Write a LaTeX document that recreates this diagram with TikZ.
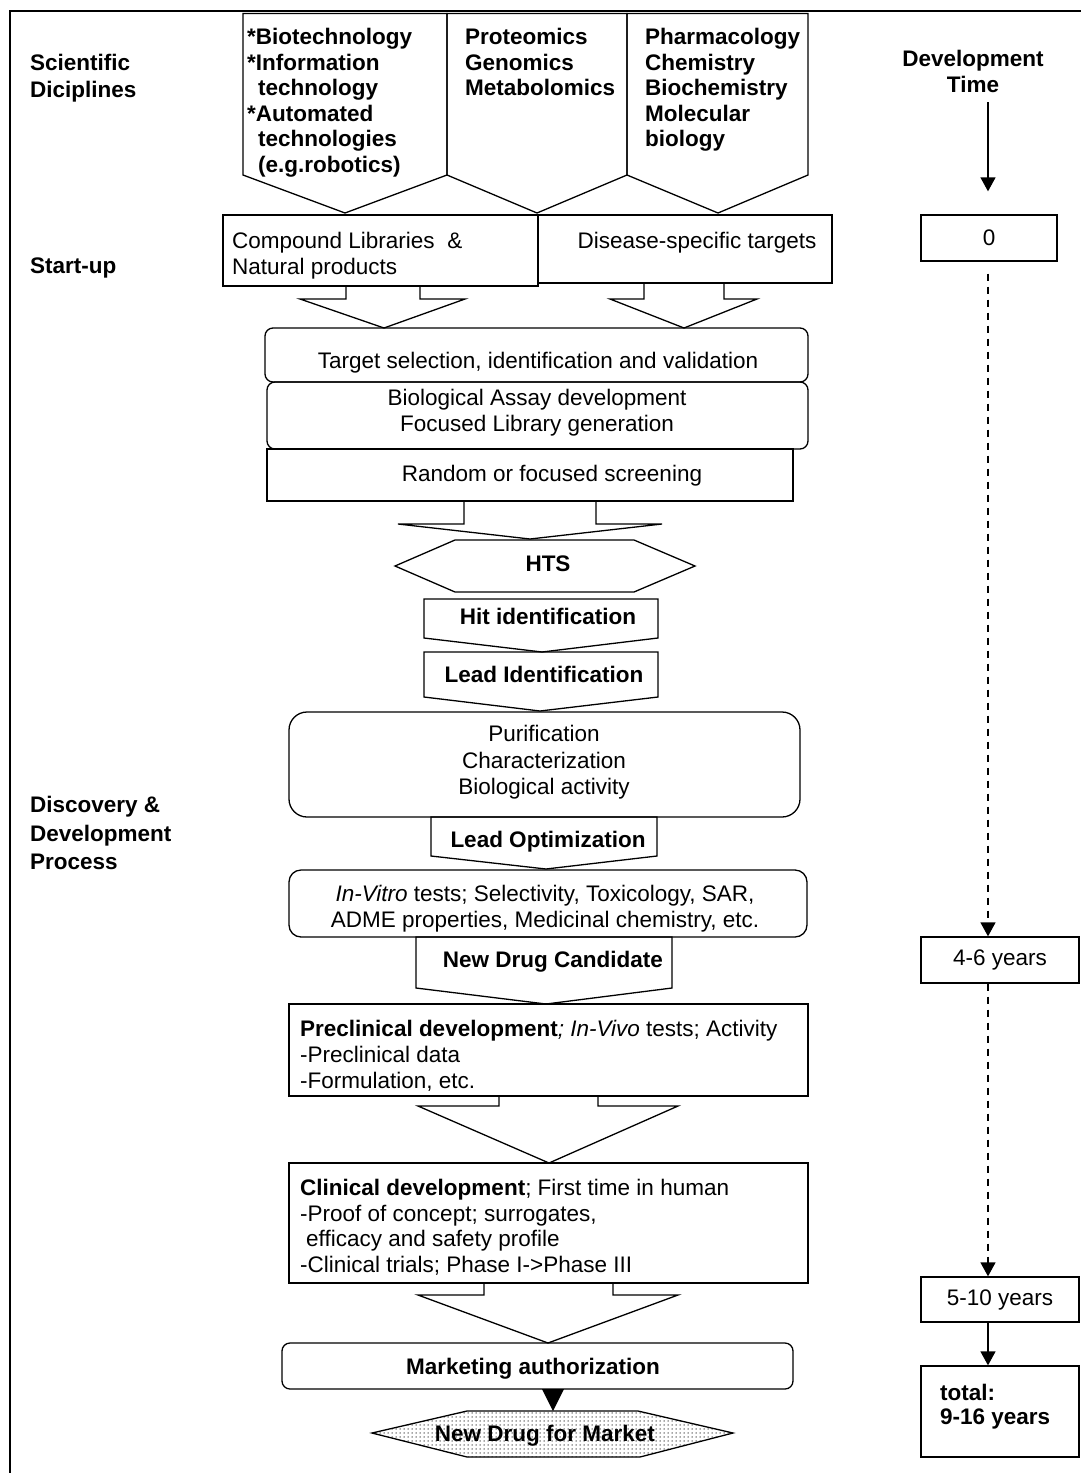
\documentclass[tikz,border=0pt]{standalone}
\usepackage{fontspec}
\setmainfont{Liberation Sans}
\usetikzlibrary{arrows.meta,patterns}
\pgfdeclarepatternformonly{bigdots}{\pgfqpoint{-1pt}{-1pt}}{\pgfqpoint{1pt}{1pt}}{\pgfqpoint{4pt}{4pt}}{\pgfpathcircle{\pgfqpoint{0pt}{0pt}}{.75pt}\pgfusepath{fill}}
\begin{document}
\begin{tikzpicture}[x=1pt,y=-1pt, line join=miter,
  every node/.style={font=\fontsize{22.5}{25.5}\selectfont, inner sep=0pt},
  shp/.style={draw, line width=1.3pt},
  rbox/.style={draw, line width=1.3pt, rounded corners=8pt},
  tbox/.style={draw, line width=1.3pt, minimum width=158pt, minimum height=46pt, inner sep=0pt},
  bf/.style={font=\fontsize{22.5}{25.5}\selectfont\bfseries},
  arr/.style={line width=1.3pt, -{Triangle[length=14pt,width=15pt]}},
  darr/.style={arr, dash pattern=on 7pt off 6pt},
]
\useasboundingbox (0,0) rectangle (1081,1473);
% frame
\draw[line width=1.5pt] (1081,11) -- (10,11) -- (10,1473);

% scientific discipline pentagons
\draw[shp] (243,13.5) -- (447,13.5) -- (447,175) -- (345,213) -- (243,175) -- cycle;
\draw[shp] (447,13.5) -- (627,13.5) -- (627,175) -- (537,213) -- (447,175) -- cycle;
\draw[shp] (627,13.5) -- (808,13.5) -- (808,175) -- (718,213) -- (627,175) -- cycle;
\node[bf, align=left, anchor=north west] (d1) at (247,28) {*Biotechnology\\*Information\\\hspace*{11pt}technology\\*Automated\\\hspace*{11pt}technologies\\\hspace*{11pt}(e.g.robotics)};
\node[bf, align=left, anchor=north west] (d2) at (465,28) {Proteomics\\Genomics\\Metabolomics};
\node[bf, align=left, anchor=north west] (d3) at (645,28) {Pharmacology\\Chemistry\\Biochemistry\\Molecular\\biology};

% left labels
\node[font=\fontsize{22.5}{27}\selectfont\bfseries, align=left, anchor=north west] (sci) at (30,54) {Scientific\\Diciplines};
\node[bf, anchor=base west] (start) at (30,273) {Start-up};
\node[font=\fontsize{22.5}{28.5}\selectfont\bfseries, align=left, anchor=north west] (disc) at (30,796) {Discovery \&\\Development\\Process};

% start-up boxes
\draw[shp] (223,215) rectangle (538,286);
\draw[shp] (538,215) rectangle (832,283);
\node[align=left, anchor=north west] (cl) at (232,232) {Compound Libraries~~\&\\Natural products};
\node[anchor=base] (ds) at (697,248) {Disease-specific targets};
\draw[shp] (346,286) -- (346,299) -- (300,299) -- (384,328) -- (465,299) -- (420,299) -- (420,286);
\draw[shp] (644,283) -- (644,299) -- (610,299) -- (684,328) -- (757,299) -- (724,299) -- (724,283);

% target / assay / screening
\draw[rbox] (265,328) rectangle (808,382);
\node[anchor=base] (ts) at (538,368) {Target selection, identification and validation};
\draw[rbox] (267,382) rectangle (808,449);
\node[align=center, anchor=north] (ba) at (537,389) {Biological Assay development\\Focused Library generation};
\draw[shp] (267,449) rectangle (793,501);
\node[anchor=base] (rs) at (552,481) {Random or focused screening};
\draw[shp] (464,501) -- (464,524) -- (398,524) -- (530,539) -- (662,524) -- (596,524) -- (596,501);

% HTS
\draw[shp] (395,566) -- (455,540) -- (634,540) -- (695,566) -- (634,592) -- (455,592) -- cycle;
\node[bf, anchor=base] (hts) at (548,571) {HTS};

% hit / lead
\draw[shp] (424,599) -- (658,599) -- (658,638) -- (542,652) -- (424,638) -- cycle;
\node[bf, anchor=base] (hit) at (548,624) {Hit identification};
\draw[shp] (424,652) -- (658,652) -- (658,697) -- (540,711) -- (424,697) -- cycle;
\node[bf, anchor=base] (lid) at (544,682) {Lead Identification};

\draw[rbox, rounded corners=18pt] (289,712) rectangle (800,817);
\node[font=\fontsize{22.5}{26.5}\selectfont, align=center, anchor=north] (pur) at (544,725) {Purification\\Characterization\\Biological activity};

\draw[shp] (431,817) -- (657,817) -- (657,856) -- (546,869) -- (431,856) -- cycle;
\node[bf, anchor=base] (lop) at (548,847) {Lead Optimization};

\draw[rbox, rounded corners=12pt] (289,870) rectangle (807,937);
\node[align=center, anchor=north] (ivt) at (545,885) {\textit{In-Vitro} tests; Selectivity, Toxicology, SAR,\\ADME properties, Medicinal chemistry, etc.};

\draw[shp] (416,937) -- (672,937) -- (672,988) -- (546,1004) -- (416,988) -- cycle;
\node[bf, anchor=base] (ndc) at (553,967) {New Drug Candidate};

% preclinical
\draw[shp] (289,1004) rectangle (808,1096);
\node[font=\fontsize{22.5}{26}\selectfont, align=left, anchor=north west] (pre) at (300,1020) {\textbf{Preclinical development}\textit{; In-Vivo} tests; Activity\\-Preclinical data\\-Formulation, etc.};
\draw[shp] (499,1096) -- (499,1106) -- (418,1106) -- (549,1163) -- (678,1106) -- (598,1106) -- (598,1096);

% clinical
\draw[shp] (289,1163) rectangle (808,1283);
\node[align=left, anchor=north west] (cli) at (300,1179) {\textbf{Clinical development}; First time in human\\-Proof of concept; surrogates,\\\hspace*{6pt}efficacy and safety profile\\-Clinical trials; Phase I->Phase III};
\draw[shp] (484,1283) -- (484,1295) -- (418,1295) -- (548,1343) -- (678,1295) -- (613,1295) -- (613,1283);

% marketing
\draw[rbox] (282,1343) rectangle (793,1389);
\node[bf, anchor=base] (mkt) at (533,1374) {Marketing authorization};
\fill (542,1389) -- (564,1389) -- (553,1411) -- cycle;

% new drug
\path[fill=white] (372,1433) -- (467,1411) -- (638,1411) -- (733,1433) -- (640,1457) -- (467,1457) -- cycle;
\path[pattern=bigdots, pattern color=black!70] (372,1433) -- (467,1411) -- (638,1411) -- (733,1433) -- (640,1457) -- (467,1457) -- cycle;
\draw[shp] (372,1433) -- (467,1411) -- (638,1411) -- (733,1433) -- (640,1457) -- (467,1457) -- cycle;
\node[bf, anchor=base] (ndm) at (545,1441) {New Drug for Market};

% development time column
\coordinate (cx) at (988,0);
\node[bf, align=center, anchor=north] (dt) at (973,50) {Development\\Time};
\node[tbox, minimum width=136pt] (t0) at (989,238) {0};
\node[tbox] (t46) at (1000,960) {4-6 years};
\node[tbox, minimum height=45pt] (t510) at (1000,1299.5) {5-10 years};
\node[tbox, minimum height=91pt] (ttot) at (1000,1411.5) {};
\node[font=\fontsize{22.5}{23.5}\selectfont\bfseries, align=left, anchor=north west] (ttxt) at (940,1384) {total:\\9-16 years};

\draw[arr, shorten <=10pt, shorten >=23pt] (dt.south -| cx) -- (t0.north -| cx);
\draw[darr, shorten <=12pt] (t0.south -| cx) -- (t46.north -| cx);
\draw[darr] (t46.south -| cx) -- (t510.north -| cx);
\draw[arr] (t510.south -| cx) -- (ttot.north -| cx);
\end{tikzpicture}
\end{document}
